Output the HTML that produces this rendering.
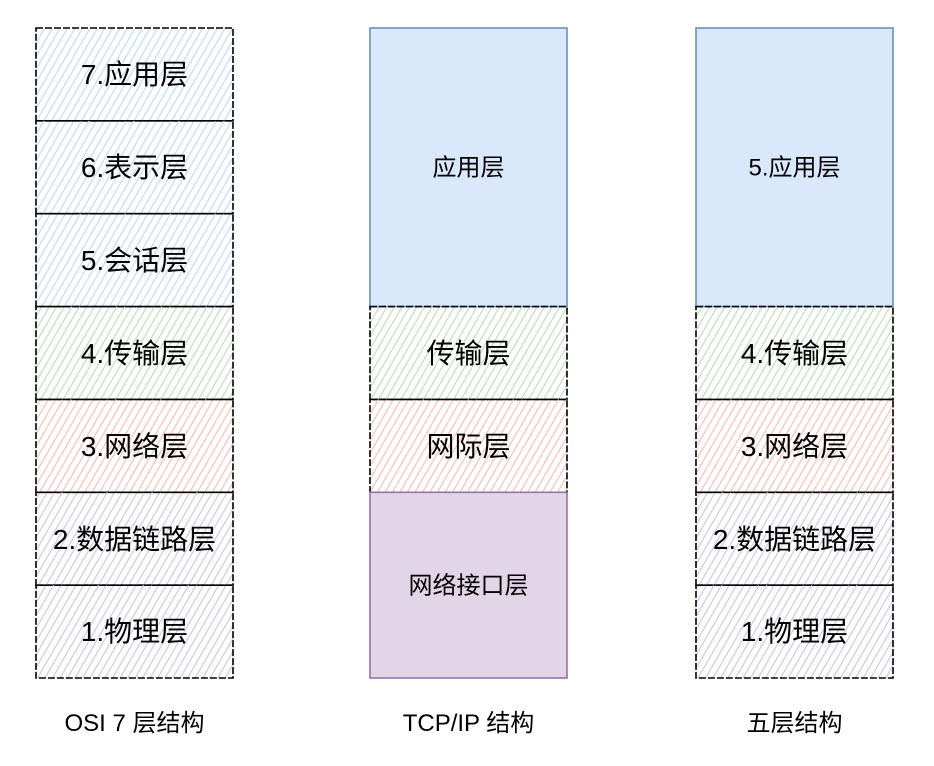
<!DOCTYPE html>
<html>
<head>
<meta charset="utf-8">
<style>
  html, body { margin: 0; padding: 0; background: #ffffff; }
  body { width: 934px; height: 766px; overflow: hidden; }
  svg { display: block; }
  text { font-family: "Liberation Sans", "Noto Sans CJK SC", sans-serif; fill: #000; }
</style>
</head>
<body>
<svg width="934" height="766" viewBox="0 0 934 766" xmlns="http://www.w3.org/2000/svg">
  <defs>
    <pattern id="hb" patternUnits="userSpaceOnUse" width="6.5" height="10" patternTransform="rotate(30)">
      <line x1="1" y1="0" x2="1" y2="10" stroke="#c6daf7" stroke-width="1.3"/>
    </pattern>
    <pattern id="hg" patternUnits="userSpaceOnUse" width="6.5" height="10" patternTransform="rotate(30)">
      <line x1="1" y1="0" x2="1" y2="10" stroke="#c4dec2" stroke-width="1.3"/>
    </pattern>
    <pattern id="hr" patternUnits="userSpaceOnUse" width="6.5" height="10" patternTransform="rotate(30)">
      <line x1="1" y1="0" x2="1" y2="10" stroke="#f6c2bf" stroke-width="1.3"/>
    </pattern>
    <pattern id="hp" patternUnits="userSpaceOnUse" width="6.5" height="10" patternTransform="rotate(30)">
      <line x1="1" y1="0" x2="1" y2="10" stroke="#d6c8df" stroke-width="1.3"/>
    </pattern>
  </defs>

  <!-- Column 1: OSI -->
  <g stroke="#000" stroke-width="1.6" stroke-dasharray="7 2">
    <rect x="36" y="28" width="197" height="92.86" fill="url(#hb)"/>
    <rect x="36" y="120.86" width="197" height="92.86" fill="url(#hb)"/>
    <rect x="36" y="213.71" width="197" height="92.86" fill="url(#hb)"/>
    <rect x="36" y="306.57" width="197" height="92.86" fill="url(#hg)"/>
    <rect x="36" y="399.43" width="197" height="92.86" fill="url(#hr)"/>
    <rect x="36" y="492.29" width="197" height="92.86" fill="url(#hp)"/>
    <rect x="36" y="585.14" width="197" height="92.86" fill="url(#hp)"/>
  </g>
  <g font-size="28" text-anchor="middle">
    <text x="134.5" y="84">7.应用层</text>
    <text x="134.5" y="177">6.表示层</text>
    <text x="134.5" y="270">5.会话层</text>
    <text x="134.5" y="363">4.传输层</text>
    <text x="134.5" y="456">3.网络层</text>
    <text x="134.5" y="549">2.数据链路层</text>
    <text x="134.5" y="641">1.物理层</text>
  </g>

  <!-- Column 2: TCP/IP -->
  <rect x="370" y="28" width="197" height="278.57" fill="#dae8fc" stroke="#6c8ebf" stroke-width="1.6"/>
  <g stroke="#000" stroke-width="1.6" stroke-dasharray="7 2">
    <rect x="370" y="306.57" width="197" height="92.86" fill="url(#hg)"/>
    <rect x="370" y="399.43" width="197" height="92.86" fill="url(#hr)"/>
  </g>
  <rect x="370" y="492.29" width="197" height="185.71" fill="#e1d5e7" stroke="#9673a6" stroke-width="1.6"/>
  <g text-anchor="middle">
    <text x="468.5" y="175.5" font-size="24">应用层</text>
    <text x="468.5" y="363" font-size="28">传输层</text>
    <text x="468.5" y="456" font-size="28">网际层</text>
    <text x="468.5" y="593.5" font-size="24">网络接口层</text>
  </g>

  <!-- Column 3: Five-layer -->
  <rect x="696" y="28" width="197" height="278.57" fill="#dae8fc" stroke="#6c8ebf" stroke-width="1.6"/>
  <g stroke="#000" stroke-width="1.6" stroke-dasharray="7 2">
    <rect x="696" y="306.57" width="197" height="92.86" fill="url(#hg)"/>
    <rect x="696" y="399.43" width="197" height="92.86" fill="url(#hr)"/>
    <rect x="696" y="492.29" width="197" height="92.86" fill="url(#hp)"/>
    <rect x="696" y="585.14" width="197" height="92.86" fill="url(#hp)"/>
  </g>
  <g text-anchor="middle">
    <text x="794.5" y="175.5" font-size="24">5.应用层</text>
    <text x="794.5" y="363" font-size="28">4.传输层</text>
    <text x="794.5" y="456" font-size="28">3.网络层</text>
    <text x="794.5" y="549" font-size="28">2.数据链路层</text>
    <text x="794.5" y="641" font-size="28">1.物理层</text>
  </g>

  <!-- Bottom labels -->
  <g font-size="24" text-anchor="middle">
    <text x="134.5" y="731">OSI 7 层结构</text>
    <text x="468.5" y="731">TCP/IP 结构</text>
    <text x="794.5" y="731">五层结构</text>
  </g>
</svg>
</body>
</html>
